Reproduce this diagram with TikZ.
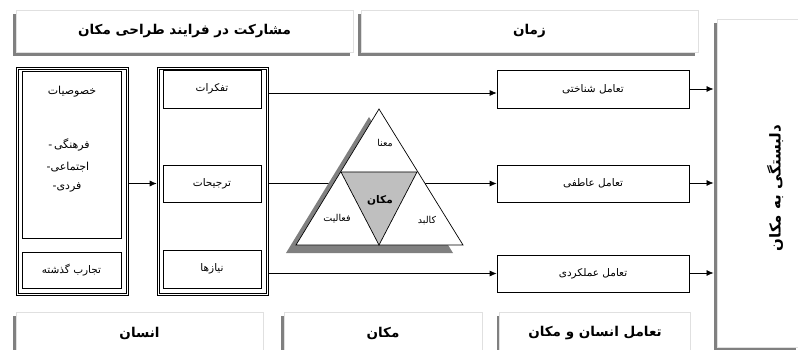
\documentclass[tikz,border=0pt]{standalone}
\usepackage{fontspec}
\usetikzlibrary{arrows.meta,shadows,calc}
\newfontfamily\fa[Script=Arabic]{DejaVu Sans}
\TeXXeTstate=1
\newcommand{\fatx}[1]{\beginR#1\endR}
\tikzset{
  titlebox/.style={draw=black!12, fill=white, line width=0.6pt, inner sep=0pt,
    general shadow={fill=black!50, shadow xshift=-3pt, shadow yshift=-4pt},
    font=\fa\bfseries\fontsize{13.5}{15}\selectfont},
  sbox/.style={draw=black, fill=white, line width=0.7pt, inner sep=0pt,
    font=\fa\fontsize{10.5}{12}\selectfont},
  obox/.style={draw=black, line width=0.6pt, inner sep=0pt},
  lbl/.style={font=\fa\fontsize{11}{12}\selectfont, inner sep=0pt},
  tlbl/.style={font=\fa\fontsize{9.5}{11}\selectfont, inner sep=0pt},
  arr/.style={-{Latex[length=7pt,width=6pt]}, line width=0.7pt},
}
\begin{document}
\begin{tikzpicture}[x=1pt,y=-1pt]
\useasboundingbox (0,0) rectangle (798,350);
% title boxes
\node[titlebox, minimum width=337pt, minimum height=42pt] (t1) at (184.5,31) {\fatx{مشارکت در فرایند طراحی مکان}};
\node[titlebox, minimum width=337pt, minimum height=42pt] (t2) at (529.5,31) {\fatx{زمان}};
% tall right box
\node[titlebox, minimum width=82pt, minimum height=328pt] (tall) at (758,183) {};
\node[font=\fa\bfseries\fontsize{15}{17}\selectfont, rotate=90, inner sep=0pt] (talltxt) at (775,188) {\fatx{دلبستگی به مکان}};
% bottom boxes
\node[titlebox, minimum width=247pt, minimum height=42pt] (b1) at (139.5,333) {\fatx{انسان}};
\node[titlebox, minimum width=198pt, minimum height=42pt] (b2) at (383,333) {\fatx{مکان}};
\node[titlebox, minimum width=191pt, minimum height=42pt] (b3) at (595,333) {\fatx{تعامل انسان و مکان}};
% left column (double outline)
\node[obox, minimum width=112pt, minimum height=228pt] (L) at (72,181) {};
\node[obox, minimum width=108pt, minimum height=224pt] (Li) at (72,181) {};
\node[sbox, minimum width=99pt, minimum height=167pt] (khos) at (71.5,154.5) {};
\node[lbl] (khos1) at (72,92) {\fatx{خصوصیات}};
\node[lbl] (khos2) at (69,145) {-\,\fatx{فرهنگی}};
\node[lbl] (khos3) at (68,167) {-\fatx{اجتماعی}};
\node[lbl] (khos4) at (67,187) {-\fatx{فردی}};
\node[sbox, minimum width=99pt, minimum height=36pt] (taj) at (71.5,270) {\fatx{تجارب گذشته}};
% middle column (double outline)
\node[obox, minimum width=111pt, minimum height=228pt] (M) at (212.5,181) {};
\node[obox, minimum width=107pt, minimum height=224pt] (Mi) at (212.5,181) {};
\node[sbox, minimum width=98pt, minimum height=38pt] (taf) at (212,89) {\fatx{تفکرات}};
\node[sbox, minimum width=98pt, minimum height=37pt] (tar) at (212,183.5) {\fatx{ترجیحات}};
\node[sbox, minimum width=98pt, minimum height=38pt] (niaz) at (212,269) {\fatx{نیازها}};
% right boxes
\node[sbox, minimum width=192pt, minimum height=38pt] (sh) at (593,89) {\fatx{تعامل شناختی}};
\node[sbox, minimum width=192pt, minimum height=37pt] (at) at (593,183.5) {\fatx{تعامل عاطفی}};
\node[sbox, minimum width=192pt, minimum height=37pt] (am) at (593,273.5) {\fatx{تعامل عملکردی}};
% connectors
\draw[arr] (L.east |- tar) -- (M.west |- tar);
\draw[arr] ([yshift=-4pt]M.east |- taf) -- ([yshift=-4pt]sh.west);
\draw[arr] (M.east |- at) -- (at.west);
\draw[arr] (M.east |- am) -- (am.west);
\coordinate (e1) at (713.5,89);
\coordinate (e2) at (713.5,183);
\coordinate (e3) at (713.5,273);
\draw[arr] (sh.east) -- (e1);
\draw[arr] (at.east |- e2) -- (e2);
\draw[arr] (am.east |- e3) -- (e3);
% triangle
\coordinate (A) at (379,109);
\coordinate (BL) at (296,245);
\coordinate (BR) at (463,245);
\coordinate (P) at (341,172);
\coordinate (Q) at (417,172);
\coordinate (R) at (379,245);
\fill[black!50] ($(A)+(-10,8)$) -- ($(BL)+(-10,8)$) -- ($(BR)+(-10,8)$) -- cycle;
\draw[fill=white, line width=0.7pt] (A) -- (BL) -- (BR) -- cycle;
\draw[fill=black!25, line width=0.7pt] (P) -- (Q) -- (R) -- cycle;
\node[tlbl] (mana) at (385,143) {\fatx{معنا}};
\node[tlbl, font=\fa\bfseries\fontsize{10.5}{12}\selectfont] (makan) at (380,200) {\fatx{مکان}};
\node[tlbl] (faal) at (337,219) {\fatx{فعالیت}};
\node[tlbl] (kalbad) at (427,221) {\fatx{کالبد}};
\end{tikzpicture}
\end{document}
